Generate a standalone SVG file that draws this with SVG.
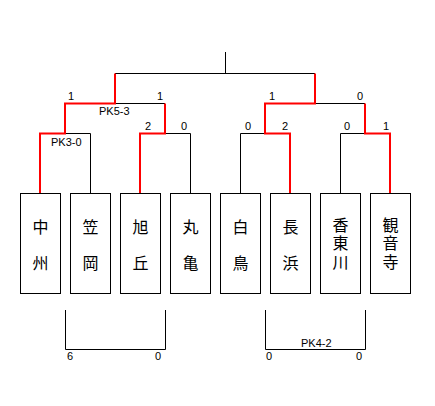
<svg xmlns="http://www.w3.org/2000/svg" width="435" height="406" viewBox="0 0 435 406">
<style>
.box{fill:#fff;stroke:#000;stroke-width:1}
.b{fill:none;stroke:#000;stroke-width:1}
.r{fill:none;stroke:#f00;stroke-width:2}
.s{font-family:"Liberation Sans",Arial,sans-serif;font-size:11px;fill:#000}
.n{font-family:"Noto Sans CJK JP",sans-serif;font-size:16px;fill:#000;text-anchor:middle;dominant-baseline:central}
.v{font-family:"Noto Sans CJK JP",sans-serif;font-size:16px;fill:#000;text-anchor:middle;writing-mode:vertical-rl;letter-spacing:2.5px}
</style>
<rect width="435" height="406" fill="#fff"/>
<g id="connectors">
<path class="b" d="M225.5 52V73.5M115 73.5H315"/>
<path class="b" d="M115 103.5H165M315 103.5H365"/>
<path class="b" d="M65 133.5H90.5V193M165 133.5H190.5V193"/>
<path class="b" d="M240.5 193V133.5H265M340.5 193V133.5H365"/>
<path class="r" d="M115 73.5V103.5H65V133.5H40V193"/>
<path class="r" d="M165 103.5V133.5H140V193"/>
<path class="r" d="M315 73.5V103.5H265V133.5H290V193"/>
<path class="r" d="M365 103.5V133.5H390V193"/>
<path class="b" d="M65.5 310V349.5H165.5V310M265.5 310V349.5H365.5V310"/>
</g>
<g id="scores">
<text class="s" x="68" y="100">1</text>
<text class="s" x="157" y="100">1</text>
<text class="s" x="99" y="115">PK5-3</text>
<text class="s" x="145" y="130">2</text>
<text class="s" x="181" y="130">0</text>
<text class="s" x="51" y="146">PK3-0</text>
<text class="s" x="269" y="100">1</text>
<text class="s" x="357" y="100">0</text>
<text class="s" x="245" y="130">0</text>
<text class="s" x="282" y="130">2</text>
<text class="s" x="344" y="130">0</text>
<text class="s" x="383" y="130">1</text>
<text class="s" x="67" y="360">6</text>
<text class="s" x="155" y="360">0</text>
<text class="s" x="301" y="347">PK4-2</text>
<text class="s" x="266" y="360">0</text>
<text class="s" x="356" y="360">0</text>
</g>
<g id="team-nakasu"><rect class="box" x="20.5" y="193.5" width="40" height="100"/><text class="n" x="40.5" y="226">中</text><text class="n" x="40.5" y="262">州</text></g>
<g id="team-kasaoka"><rect class="box" x="70.5" y="193.5" width="40" height="100"/><text class="n" x="90.5" y="226">笠</text><text class="n" x="90.5" y="262">岡</text></g>
<g id="team-asahigaoka"><rect class="box" x="120.5" y="193.5" width="40" height="100"/><text class="n" x="140.5" y="226">旭</text><text class="n" x="140.5" y="262">丘</text></g>
<g id="team-marugame"><rect class="box" x="170.5" y="193.5" width="40" height="100"/><text class="n" x="190.5" y="226">丸</text><text class="n" x="190.5" y="262">亀</text></g>
<g id="team-shiratori"><rect class="box" x="220.5" y="193.5" width="40" height="100"/><text class="n" x="240.5" y="226">白</text><text class="n" x="240.5" y="262">鳥</text></g>
<g id="team-nagahama"><rect class="box" x="270.5" y="193.5" width="40" height="100"/><text class="n" x="290.5" y="226">長</text><text class="n" x="290.5" y="262">浜</text></g>
<g id="team-kotogawa"><rect class="box" x="320.5" y="193.5" width="40" height="100"/><text class="v" x="340.5" y="244.5">香東川</text></g>
<g id="team-kanonji"><rect class="box" x="370.5" y="193.5" width="40" height="100"/><text class="v" x="390.5" y="244.5">観音寺</text></g>
</svg>
